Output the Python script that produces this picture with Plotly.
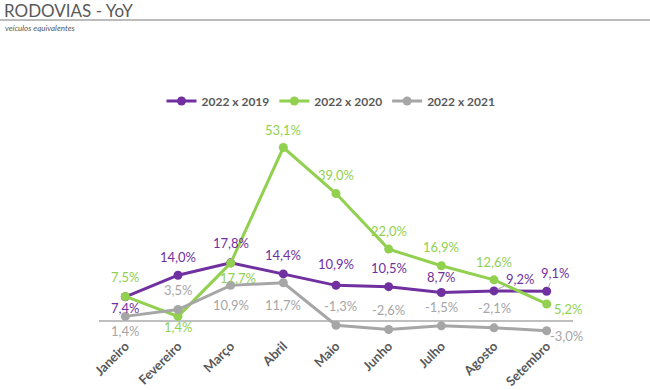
import plotly.graph_objects as go

months = ["Janeiro", "Fevereiro", "Março", "Abril", "Maio", "Junho", "Julho", "Agosto", "Setembro"]
s2019 = [7.4, 14.0, 17.8, 14.4, 10.9, 10.5, 8.7, 9.2, 9.1]
s2020 = [7.5, 1.4, 17.7, 53.1, 39.0, 22.0, 16.9, 12.6, 5.2]
s2021 = [1.4, 3.5, 10.9, 11.7, -1.3, -2.6, -1.5, -2.1, -3.0]

# label offsets (pixels) relative to each point: (dx, dy up)
off2019 = [(0, -11), (0, 18), (0, 20), (0, 19), (0, 21), (0, 19), (0, 16), (26, 12), (8, 18)]
off2020 = [(0, 19), (0, -11), (7, -15), (0, 18), (0, 19), (0, 18), (0, 19), (0, 18), (21, -5)]
off2021 = [(0, -15), (0, 20), (0, -20), (0, -22), (4, 19), (0, 19), (0, 19), (0, 20), (20, -5)]
leader2019 = [False, False, False, False, False, False, False, True, True]

def fmt(v):
    return f"{v:.1f}".replace(".", ",") + "%"

FONT = "Lato, 'Open Sans', sans-serif"
TXT = "#595959"

fig = go.Figure()
series = [
    ("2022 x 2019", s2019, "#7030A0", off2019, leader2019),
    ("2022 x 2020", s2020, "#92D050", off2020, [False] * 9),
    ("2022 x 2021", s2021, "#A6A6A6", off2021, [False] * 9),
]
annotations = []
for name, vals, col, offs, leads in series:
    fig.add_trace(go.Scatter(
        x=months, y=vals, name=name, mode="lines+markers",
        line=dict(color=col, width=3),
        marker=dict(color=col, size=9),
        cliponaxis=False,
    ))
    for m, v, (dx, dy), lead in zip(months, vals, offs, leads):
        if lead:
            annotations.append(dict(
                x=m, y=v, xref="x", yref="y", text=fmt(v), showarrow=True,
                ax=dx, ay=-dy, arrowhead=0, arrowwidth=1, arrowcolor="#A6A6A6",
                standoff=4, font=dict(color=col, size=13, family=FONT)))
        else:
            annotations.append(dict(
                x=m, y=v, xref="x", yref="y", text=fmt(v), showarrow=False,
                xshift=dx, yshift=dy, font=dict(color=col, size=13, family=FONT)))

L, R, T, B = 99, 77, 125, 55
W, H = 650, 390
pw, ph = W - L - R, H - T - B

def px(x):
    return (x - L) / pw

def py(y):
    return (H - B - y) / ph

annotations += [
    dict(text="RODOVIAS - YoY", xref="paper", yref="paper", x=px(2), y=py(11),
         xanchor="left", yanchor="middle", showarrow=False,
         font=dict(size=17, color=TXT, family=FONT)),
    dict(text="<i>veículos equivalentes</i>", xref="paper", yref="paper", x=px(3), y=py(28),
         xanchor="left", yanchor="middle", showarrow=False,
         font=dict(size=8, color=TXT, family=FONT)),
]

fig.update_layout(
    width=W, height=H,
    margin=dict(l=L, r=R, t=T, b=B, autoexpand=False),
    paper_bgcolor="white", plot_bgcolor="white",
    font=dict(family=FONT, color=TXT),
    showlegend=True,
    legend=dict(orientation="h", x=px(331), xanchor="center", y=py(101), yanchor="middle",
                font=dict(size=12, color=TXT, family=FONT, weight="bold"),
                itemwidth=30, tracegroupgap=0),
    xaxis=dict(type="category", range=[-0.5, 8.5], showgrid=False, showline=False,
               ticks="", tickangle=-45, automargin=False,
               tickfont=dict(size=13, color=TXT, family=FONT, weight="bold")),
    yaxis=dict(range=[-4.3, 60], showgrid=False, showticklabels=False, automargin=False,
               zeroline=True, zerolinecolor="#BFBFBF", zerolinewidth=1.5, showline=False),
    annotations=annotations,
    shapes=[
        dict(type="line", xref="paper", yref="paper", x0=px(0), x1=px(650), y0=py(20), y1=py(20),
             line=dict(color="#A6A6A6", width=1.5)),
    ],
)

fig.write_html("out.html", config={"displayModeBar": False},
               post_script="document.body.style.margin='0';document.body.style.overflow='hidden';")
